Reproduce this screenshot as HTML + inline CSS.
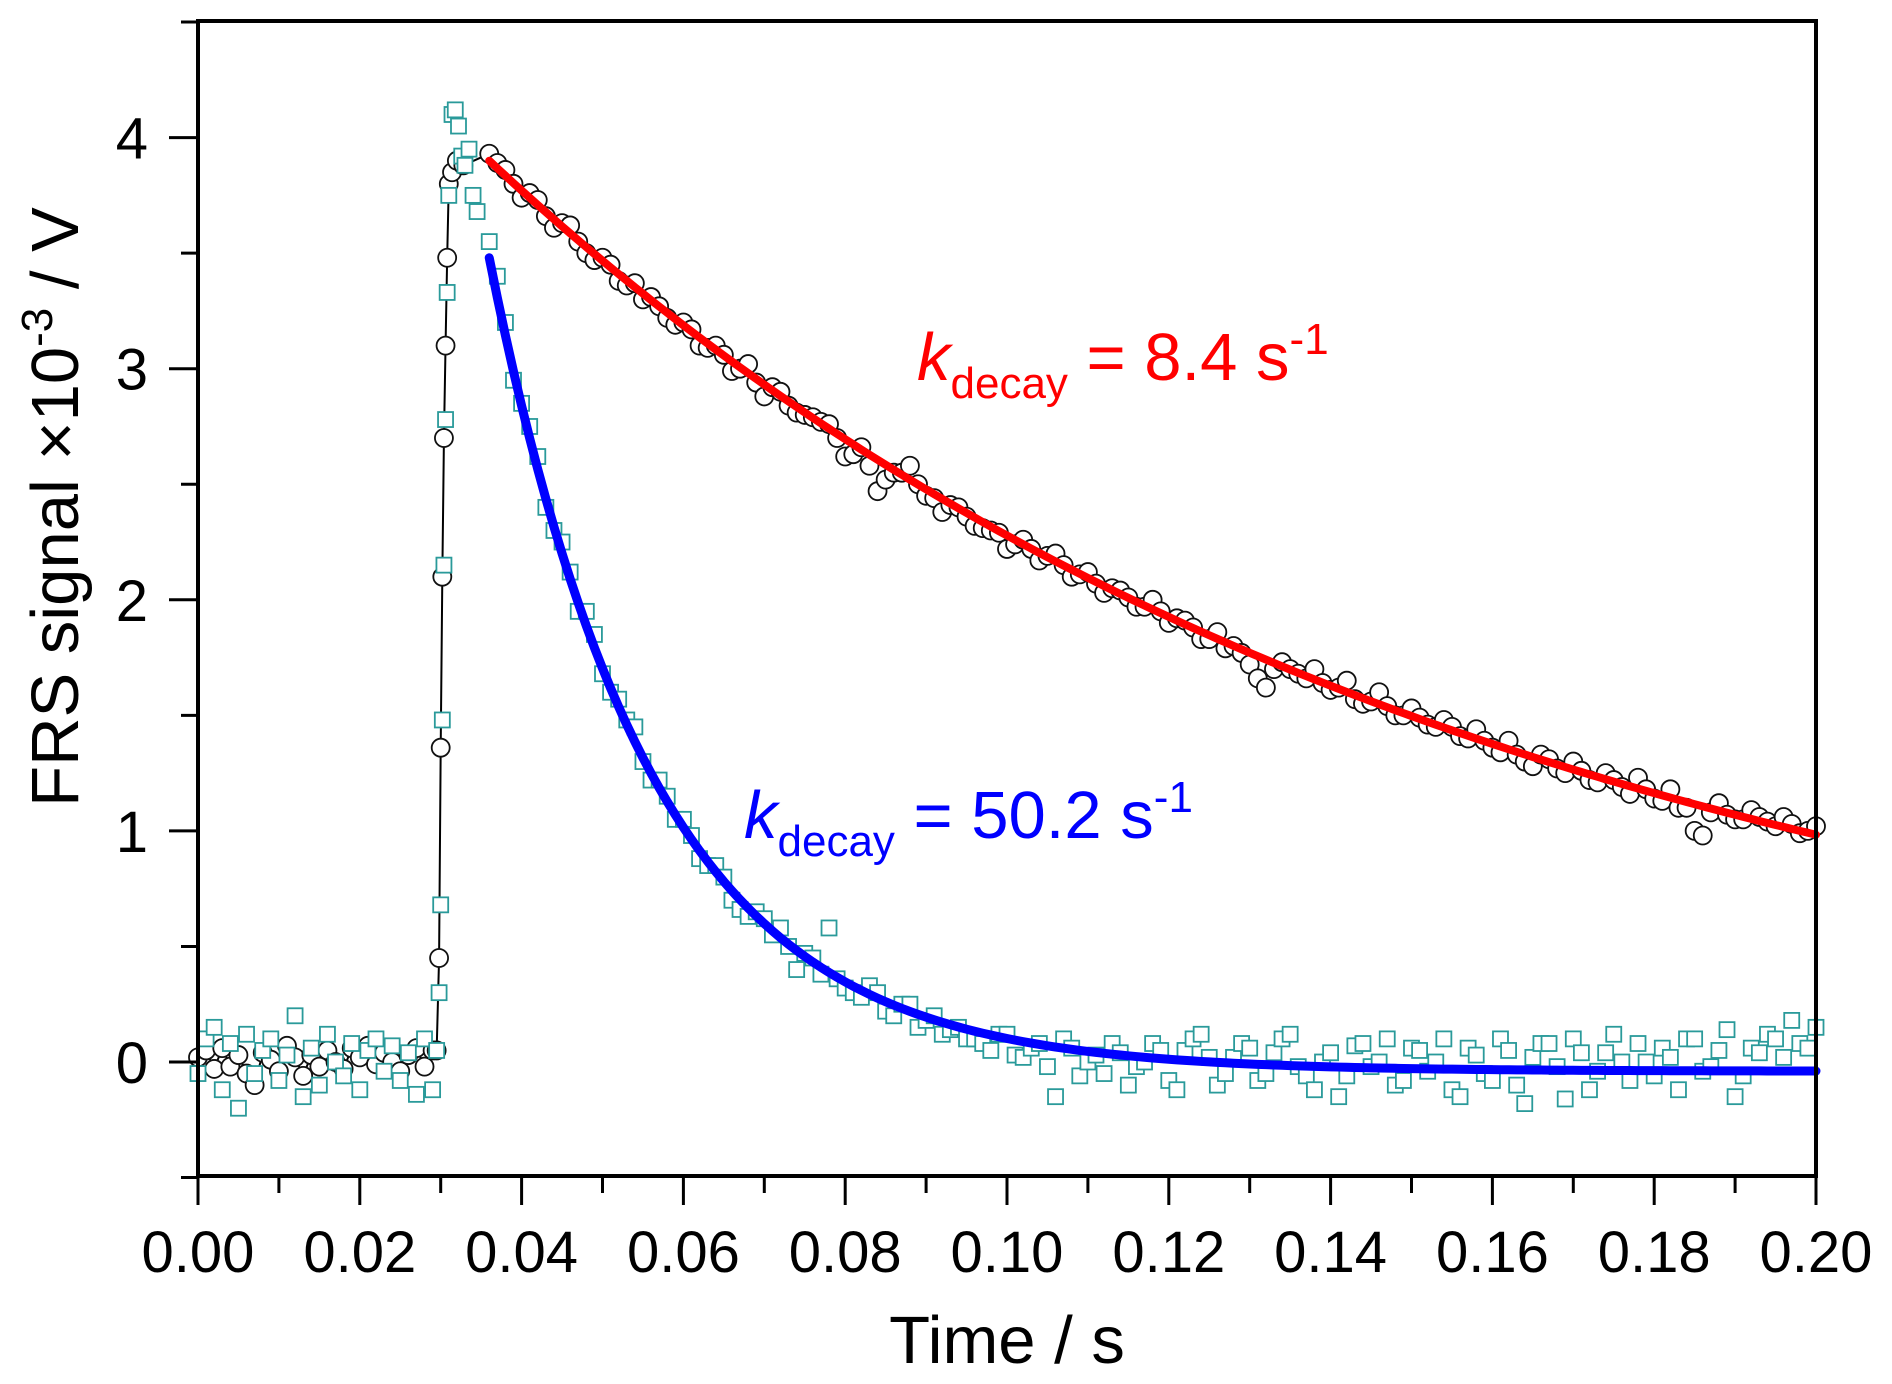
<!DOCTYPE html>
<html><head><meta charset="utf-8"><style>
html,body{margin:0;padding:0;background:#fff}
svg{display:block;font-family:"Liberation Sans",Arial,sans-serif}
</style></head><body>
<svg id="chart" width="1892" height="1384" viewBox="0 0 1892 1384" xmlns="http://www.w3.org/2000/svg">
<rect x="0" y="0" width="1892" height="1384" fill="#fff"/>
<g id="marks"></g>
<g id="axes"></g>
<text x="1007" y="1363" font-size="67" text-anchor="middle">Time / s</text>
<text transform="translate(78,507) rotate(-90)" font-size="67" text-anchor="middle">FRS signal ×10<tspan font-size="44" dy="-26">-3</tspan><tspan dy="26"> / V</tspan></text>
<text x="917" y="380" font-size="67" fill="#ff0000"><tspan font-style="italic">k</tspan><tspan font-size="44" dy="18">decay</tspan><tspan dy="-18"> = 8.4 s</tspan><tspan font-size="44" dy="-26">-1</tspan></text>
<text x="744" y="838" font-size="67" fill="#0000ff"><tspan font-style="italic">k</tspan><tspan font-size="44" dy="18">decay</tspan><tspan dy="-18"> = 50.2 s</tspan><tspan font-size="44" dy="-26">-1</tspan></text>
</svg>
<script>
// ---- data ----
const xTicks = [0.00,0.02,0.04,0.06,0.08,0.10,0.12,0.14,0.16,0.18,0.20];
const xTickLabels = ["0.00","0.02","0.04","0.06","0.08","0.10","0.12","0.14","0.16","0.18","0.20"];
const yTicks = [0,1,2,3,4];
const yTickLabels = ["0","1","2","3","4"];
// black circles: baseline (t = 0..0.029 step 0.001)
const blackBase = [0.02,0.05,-0.03,0.06,-0.02,0.03,-0.05,-0.1,0.04,0.01,-0.04,0.07,0.02,-0.06,0.03,-0.02,0.05,0.0,-0.03,0.06,0.02,0.07,-0.01,0.04,0.0,-0.04,0.03,0.06,-0.02,0.05];
const blackRiseT = [0.0295,0.0298,0.0300,0.0302,0.0304,0.0306,0.0308,0.0310,0.0314,0.0320,0.0328];
const blackRiseY = [0.05,0.45,1.36,2.1,2.7,3.1,3.48,3.8,3.85,3.9,3.88];
// black circles decay (t = 0.036..0.200 step 0.002)
const blackDecay = [3.93,3.86,3.74,3.73,3.61,3.62,3.50,3.48,3.38,3.37,3.31,3.22,3.20,3.10,3.10,2.99,3.02,2.88,2.90,2.81,2.79,2.76,2.62,2.66,2.47,2.55,2.58,2.45,2.38,2.40,2.32,2.30,2.22,2.26,2.17,2.20,2.10,2.12,2.03,2.04,1.97,2.00,1.90,1.91,1.83,1.86,1.80,1.72,1.62,1.73,1.68,1.70,1.61,1.65,1.55,1.60,1.50,1.53,1.46,1.48,1.41,1.44,1.36,1.39,1.30,1.33,1.27,1.30,1.22,1.25,1.19,1.23,1.14,1.18,1.10,0.98,1.12,1.05,1.09,1.04,1.06,0.99,1.02];
// black circles decay, interleaved samples (t = 0.037..0.199 step 0.002)
const blackDecayMid = [3.89,3.80,3.76,3.66,3.63,3.55,3.47,3.45,3.36,3.30,3.27,3.19,3.17,3.09,3.06,3.00,2.94,2.92,2.84,2.80,2.77,2.70,2.63,2.58,2.52,2.55,2.50,2.44,2.41,2.36,2.31,2.29,2.24,2.22,2.19,2.15,2.11,2.07,2.05,2.01,1.97,1.95,1.92,1.88,1.83,1.79,1.77,1.66,1.70,1.70,1.66,1.64,1.62,1.57,1.56,1.54,1.50,1.49,1.45,1.45,1.40,1.39,1.34,1.33,1.28,1.31,1.25,1.26,1.21,1.22,1.16,1.18,1.13,1.10,1.00,1.08,1.07,1.05,1.06,1.02,1.03,1.00];
// teal squares: baseline (t = 0..0.029 step 0.001)
const tealBase = [-0.05,0.1,0.15,-0.12,0.08,-0.2,0.12,-0.05,0.05,0.1,-0.08,0.03,0.2,-0.15,0.06,-0.1,0.12,0.0,-0.06,0.08,-0.12,0.05,0.1,-0.04,0.07,-0.08,0.04,-0.14,0.1,-0.12];
const tealRiseT = [0.0295,0.0298,0.0300,0.0302,0.0304,0.0306,0.0308,0.0310,0.0314,0.0318,0.0322,0.0326,0.0330,0.0335,0.0340,0.0345];
const tealRiseY = [0.05,0.3,0.68,1.48,2.15,2.78,3.33,3.75,4.1,4.12,4.05,3.92,3.88,3.95,3.75,3.68];
// teal squares decay (t = 0.036..0.200 step 0.002)
const tealDecay = [3.55,3.20,2.85,2.62,2.30,2.12,1.95,1.68,1.57,1.45,1.22,1.15,1.05,0.88,0.85,0.70,0.63,0.62,0.58,0.40,0.45,0.58,0.32,0.28,0.30,0.20,0.25,0.18,0.12,0.15,0.10,0.05,0.12,0.02,0.08,-0.15,0.06,0.0,-0.05,0.04,-0.02,0.08,-0.08,0.05,0.12,-0.1,0.02,0.06,-0.05,0.1,-0.02,-0.12,0.04,-0.06,0.08,0.0,-0.1,0.06,-0.04,0.1,-0.15,0.03,-0.08,0.05,-0.18,0.08,-0.02,0.1,-0.12,0.04,0.0,0.08,-0.06,0.02,0.1,-0.04,0.05,-0.15,0.06,0.12,0.02,0.08,0.15];
// teal squares decay, interleaved samples (t = 0.037..0.199 step 0.002)
const tealDecayMid = [3.40,2.95,2.75,2.40,2.25,1.95,1.85,1.60,1.48,1.30,1.22,1.05,0.98,0.85,0.80,0.66,0.65,0.55,0.50,0.47,0.38,0.36,0.30,0.33,0.22,0.25,0.15,0.20,0.14,0.10,0.08,0.12,0.03,0.06,-0.02,0.1,-0.06,0.03,0.08,-0.1,0.0,0.05,-0.12,0.1,0.02,-0.05,0.08,-0.08,0.04,0.12,-0.06,0.0,-0.15,0.07,-0.02,0.1,-0.08,0.05,0.0,-0.12,0.06,-0.05,0.1,-0.1,0.02,0.08,-0.16,0.04,-0.04,0.12,-0.08,0.0,0.06,-0.12,0.1,-0.02,0.14,-0.06,0.04,0.1,0.18,0.06];
// exponential fits: amplitude, rate (s^-1), offset, start time
const fitAmp = [3.9, 3.52];
const fitK = [8.4, 50.2];
const fitOffset = [0.0, -0.04];
const fitStart = [0.036, 0.036];

// ---- scales ----
const X0=198, X1=1816, Y0=1062, YU=231.1;
const xs = t => X0 + (t-0)/(0.2-0)*(X1-X0);
const ys = v => Y0 - v*YU;
const NS="http://www.w3.org/2000/svg";
const marks=document.getElementById('marks'), axes=document.getElementById('axes');
function mk(tag, attrs, parent){const e=document.createElementNS(NS,tag);for(const k in attrs)e.setAttribute(k,attrs[k]);parent.appendChild(e);return e;}

function early(base, riseT, riseY){
  const pts=[];
  base.forEach((v,i)=>pts.push([i*0.001,v]));
  riseT.forEach((t,i)=>pts.push([t,riseY[i]]));
  return pts;
}
function late(decay, mid){
  const pts=[];
  decay.forEach((v,i)=>{pts.push([0.036+i*0.002,v]); if(i<mid.length) pts.push([0.037+i*0.002,mid[i]]);});
  return pts;
}
const blackEarly = early(blackBase, blackRiseT, blackRiseY);
const blackPts = blackEarly.concat(late(blackDecay, blackDecayMid));
const tealPts = early(tealBase, tealRiseT, tealRiseY).concat(late(tealDecay, tealDecayMid));

// thin black connecting line (baseline + rise)
const bl = mk('polyline',{points:blackEarly.concat([[0.036,blackDecay[0]]]).map(p=>xs(p[0])+','+ys(p[1])).join(' '),fill:'none',stroke:'#000','stroke-width':2},marks);



blackPts.forEach(p=>{
  const c=mk('circle',{cx:xs(p[0]),cy:ys(p[1]),r:9,fill:'#fff',stroke:'#111','stroke-width':1.8},marks);
  
  
});
tealPts.forEach(p=>{
  const r=mk('rect',{x:xs(p[0])-7.5,y:ys(p[1])-7.5,width:15,height:15,fill:'#fff',stroke:'#2a9a9a','stroke-width':1.8},marks);
  
  
});
const fitColors=['#ff0000','#0000ff'], fitNames=['red-fit-curve','blue-fit-curve'], fitW=[8,9];
for(let f=0;f<2;f++){
  const pts=[];
  for(let t=fitStart[f]; t<=0.2+1e-9; t+=0.001){
    pts.push(xs(t)+','+ys(fitAmp[f]*Math.exp(-fitK[f]*(t-fitStart[f]))+fitOffset[f]));
  }
  const pl=mk('polyline',{points:pts.join(' '),fill:'none',stroke:fitColors[f],'stroke-width':fitW[f],'stroke-linecap':'round'},marks);
  
  
}

// ---- axes ----
const frame=mk('rect',{x:X0,y:21,width:X1-X0,height:1176-21,fill:'none',stroke:'#000','stroke-width':4},axes);


for(let i=0;i<=20;i++){
  const x=xs(i*0.01), len=(i%2===0)?29:17;
  const tk=mk('line',{x1:x,y1:1176,x2:x,y2:1176+len,stroke:'#000','stroke-width':3},axes);
  
  
}
xTicks.forEach((t,i)=>{
  const tx=mk('text',{x:xs(t),y:1272,'font-size':58,'text-anchor':'middle'},axes);
  tx.textContent=xTickLabels[i];
  
  
});
for(let v=-0.5; v<=4.5+1e-9; v+=0.5){
  const y=ys(v), major=Math.abs(v-Math.round(v))<1e-6;
  const tk=mk('line',{x1:X0,y1:y,x2:X0-(major?29:17),y2:y,stroke:'#000','stroke-width':3},axes);
  
  
}
yTicks.forEach((v,i)=>{
  const tx=mk('text',{x:148,y:ys(v)+21,'font-size':58,'text-anchor':'end'},axes);
  tx.textContent=yTickLabels[i];
  
  
});
</script>
</body></html>
